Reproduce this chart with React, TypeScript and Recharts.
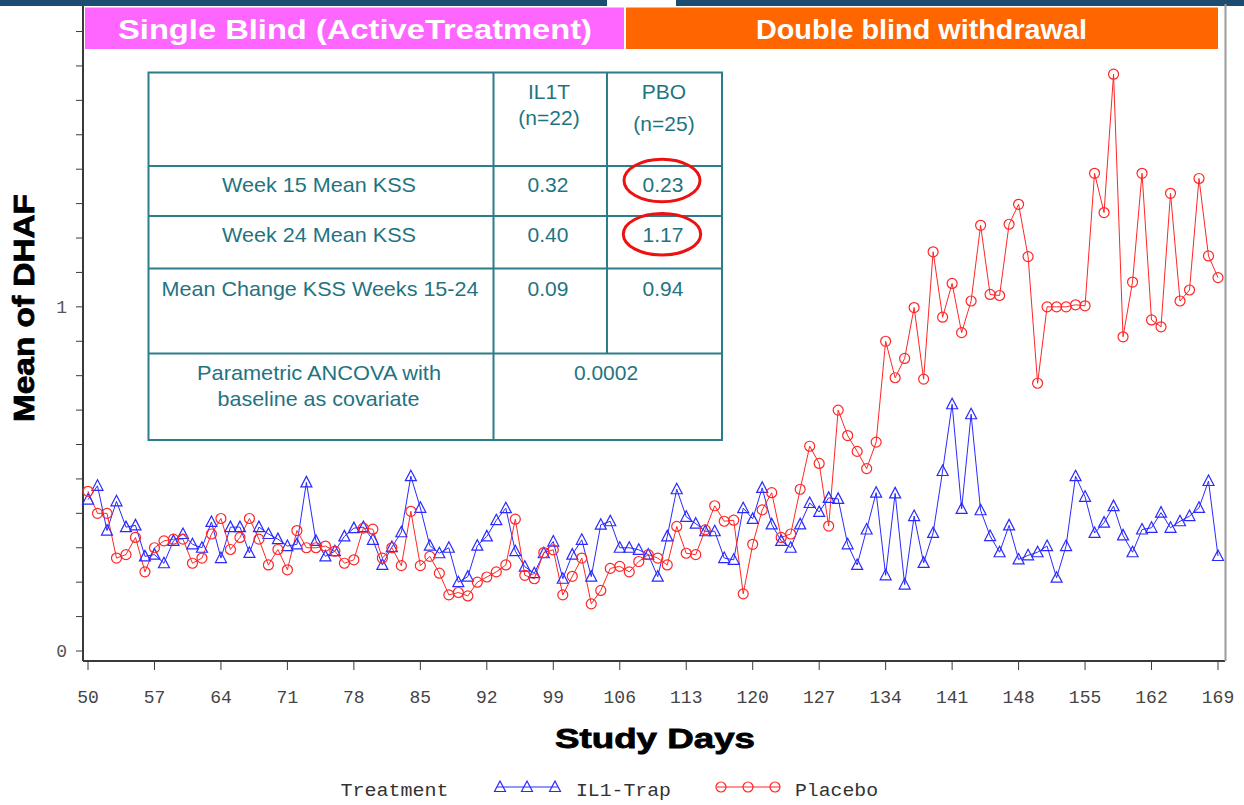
import React from 'react';
import { LineChart, Line, XAxis, YAxis } from 'recharts';

// ---------- data ----------
const DAYS = [
  50, 51, 52, 53, 54, 55, 56, 57, 58, 59,
  60, 61, 62, 63, 64, 65, 66, 67, 68, 69,
  70, 71, 72, 73, 74, 75, 76, 77, 78, 79,
  80, 81, 82, 83, 84, 85, 86, 87, 88, 89,
  90, 91, 92, 93, 94, 95, 96, 97, 98, 99,
  100, 101, 102, 103, 104, 105, 106, 107, 108, 109,
  110, 111, 112, 113, 114, 115, 116, 117, 118, 119,
  120, 121, 122, 123, 124, 125, 126, 127, 128, 129,
  130, 131, 132, 133, 134, 135, 136, 137, 138, 139,
  140, 141, 142, 143, 144, 145, 146, 147, 148, 149,
  150, 151, 152, 153, 154, 155, 156, 157, 158, 159,
  160, 161, 162, 163, 164, 165, 166, 167, 168, 169,
];

const IL1_TRAP = [
  0.44, 0.48, 0.35, 0.435, 0.36, 0.365, 0.275, 0.28, 0.255, 0.32,
  0.34, 0.31, 0.30, 0.375, 0.27, 0.36, 0.36, 0.285, 0.36, 0.34,
  0.325, 0.305, 0.31, 0.49, 0.32, 0.275, 0.29, 0.333, 0.357, 0.36,
  0.323, 0.25, 0.302, 0.345, 0.508, 0.416, 0.306, 0.284, 0.30, 0.20,
  0.216, 0.306, 0.333, 0.38, 0.415, 0.29, 0.245, 0.226, 0.284, 0.318,
  0.21, 0.28, 0.323, 0.216, 0.367, 0.377, 0.30, 0.30, 0.294, 0.28,
  0.216, 0.333, 0.47, 0.39, 0.37, 0.348, 0.348, 0.27, 0.265, 0.415,
  0.384, 0.474, 0.368, 0.32, 0.30, 0.368, 0.43, 0.404, 0.445, 0.442,
  0.31, 0.25, 0.353, 0.46, 0.22, 0.458, 0.193, 0.392, 0.256, 0.343,
  0.523, 0.717, 0.413, 0.688, 0.409, 0.334, 0.287, 0.365, 0.266, 0.278,
  0.287, 0.305, 0.213, 0.305, 0.508, 0.448, 0.343, 0.373, 0.421, 0.336,
  0.287, 0.353, 0.358, 0.402, 0.358, 0.377, 0.392, 0.416, 0.494, 0.276,
];

const PLACEBO = [
  0.464, 0.40, 0.40, 0.27, 0.28, 0.33, 0.23, 0.30, 0.32, 0.325,
  0.325, 0.255, 0.27, 0.34, 0.385, 0.295, 0.33, 0.385, 0.325, 0.25,
  0.295, 0.236, 0.35, 0.30, 0.30, 0.305, 0.29, 0.255, 0.265, 0.357,
  0.354, 0.27, 0.30, 0.248, 0.406, 0.248, 0.275, 0.226, 0.163, 0.17,
  0.16, 0.20, 0.215, 0.23, 0.25, 0.383, 0.22, 0.21, 0.286, 0.294,
  0.163, 0.217, 0.27, 0.137, 0.176, 0.24, 0.246, 0.23, 0.26, 0.28,
  0.27, 0.25, 0.362, 0.284, 0.28, 0.352, 0.422, 0.377, 0.38, 0.166,
  0.31, 0.41, 0.46, 0.33, 0.34, 0.47, 0.595, 0.545, 0.363, 0.70,
  0.626, 0.58, 0.53, 0.607, 0.90, 0.794, 0.85, 0.998, 0.79, 1.16,
  0.97, 1.068, 0.925, 1.017, 1.237, 1.036, 1.033, 1.24, 1.298, 1.146,
  0.778, 1.0, 1.0, 1.0, 1.006, 1.003, 1.388, 1.274, 1.676, 0.913,
  1.072, 1.388, 0.962, 0.942, 1.33, 1.017, 1.049, 1.373, 1.148, 1.085,
];

const X_TICKS = [50, 57, 64, 71, 78, 85, 92, 99, 106, 113, 120, 127, 134, 141, 148, 155, 162, 169];
const Y_TICKS = [0, 0.1, 0.2, 0.3, 0.4, 0.5, 0.6, 0.7, 0.8, 0.9, 1, 1.1, 1.2, 1.3, 1.4, 1.5, 1.6, 1.7, 1.8];
const Y_LABELED = [0, 1];

const SERIES_NAMES = ['IL1-Trap', 'Placebo'];
const LEGEND_TITLE = 'Treatment';
const X_TITLE = 'Study Days';
const Y_TITLE = 'Mean of DHAF';
const PHASES = ['Single Blind (ActiveTreatment)', 'Double blind withdrawal'];

const TABLE_HEAD_1 = ['IL1T', '(n=22)'];
const TABLE_HEAD_2 = ['PBO', '(n=25)'];
const TABLE_ROWS = [
  ['Week 15 Mean KSS', '0.32', '0.23'],
  ['Week 24 Mean KSS', '0.40', '1.17'],
  ['Mean Change KSS Weeks 15-24', '0.09', '0.94'],
];
const ANCOVA_LABEL = ['Parametric ANCOVA with', 'baseline as covariate'];
const ANCOVA_P = '0.0002';

const data = DAYS.map((d, i) => ({ day: d, il1: IL1_TRAP[i], pbo: PLACEBO[i] }));

// ---------- styles ----------
const BLUE = '#2a2aff';
const RED = '#ff2626';
const TEAL = '#2b7e89';
const TEAL_TEXT = '#1f7481';
const MONO = "'Liberation Mono', 'Courier New', monospace";
const SANS = "'Liberation Sans', Arial, sans-serif";

const TriangleDot = (props: any) => {
  const { cx, cy } = props;
  if (cx == null || cy == null) return <g />;
  const d = `M${cx},${cy - 6} L${cx + 5.5},${cy + 4.5} L${cx - 5.5},${cy + 4.5} Z`;
  return <path d={d} fill="none" stroke={BLUE} strokeWidth={1.2} />;
};

const XTick = (props: any) => {
  const { x, y, payload } = props;
  return (
    <text x={x} y={y} dy={29} textAnchor="middle" fontFamily={MONO} fontSize={18} fill="#444">
      {payload.value}
    </text>
  );
};

const YTick = (props: any) => {
  const { x, y, payload } = props;
  if (!Y_LABELED.includes(payload.value)) return <g />;
  return (
    <text x={x} y={y} dy={6} textAnchor="end" fontFamily={MONO} fontSize={18} fill="#555">
      {payload.value}
    </text>
  );
};

export default function App() {
  return (
    <div style={{ position: 'absolute', left: 0, top: 0, width: 1244, height: 805, background: '#fff', overflow: 'hidden' }}>
      <LineChart
        width={1244}
        height={805}
        data={data}
        margin={{ top: 4, right: 19, bottom: 84, left: 0 }}
      >
        <XAxis
          dataKey="day"
          type="number"
          domain={[50, 169]}
          ticks={X_TICKS}
          interval={0}
          padding={{ left: 5, right: 7 }}
          height={60}
          tickSize={9}
          tickMargin={4}
          axisLine={{ stroke: '#3a3a3a', strokeWidth: 2 }}
          tickLine={{ stroke: '#3a3a3a', strokeWidth: 1 }}
          tick={<XTick />}
        />
        <YAxis
          type="number"
          domain={[0, 1.88]}
          ticks={Y_TICKS}
          interval={0}
          padding={{ bottom: 10 }}
          width={83}
          tickSize={7}
          tickMargin={9}
          axisLine={{ stroke: '#3a3a3a', strokeWidth: 2 }}
          tickLine={{ stroke: '#3a3a3a', strokeWidth: 1 }}
          tick={<YTick />}
          allowDataOverflow
        />
        <Line
          type="linear"
          dataKey="il1"
          name={SERIES_NAMES[0]}
          stroke={BLUE}
          strokeWidth={1}
          dot={<TriangleDot />}
          activeDot={false}
          isAnimationActive={false}
        />
        <Line
          type="linear"
          dataKey="pbo"
          name={SERIES_NAMES[1]}
          stroke={RED}
          strokeWidth={1}
          dot={{ r: 5, fill: 'none', stroke: RED, strokeWidth: 1.2 }}
          activeDot={false}
          isAnimationActive={false}
        />
      </LineChart>

      <svg width={1244} height={805} style={{ position: 'absolute', left: 0, top: 0, pointerEvents: 'none' }}>
        {/* top strip */}
        <rect x={0} y={0} width={607} height={6} fill="#1c4d70" />
        <rect x={676} y={0} width={568} height={6} fill="#1c4d70" />

        {/* right frame */}
        <line x1={1225.5} y1={4} x2={1225.5} y2={661} stroke="#9a9a9a" strokeWidth={2} />

        {/* phase header */}
        <rect x={85} y={7.5} width={539} height={41.5} fill="#ff66ff" />
        <rect x={626} y={7.5} width={592} height={41.5} fill="#ff6600" />
        <text x={355} y={38.5} textAnchor="middle" fontFamily={SANS} fontWeight="bold" fontSize={28} fill="#fff"
          textLength={474} lengthAdjust="spacingAndGlyphs">{PHASES[0]}</text>
        <text x={921.5} y={38.5} textAnchor="middle" fontFamily={SANS} fontWeight="bold" fontSize={28} fill="#fff"
          textLength={331} lengthAdjust="spacingAndGlyphs">{PHASES[1]}</text>

        {/* table */}
        <rect x={148.5} y={72.5} width={573.5} height={367.5} fill="#fff" stroke={TEAL} strokeWidth={2} />
        <line x1={493.5} y1={72.5} x2={493.5} y2={440} stroke={TEAL} strokeWidth={2} />
        <line x1={607} y1={72.5} x2={607} y2={353.5} stroke={TEAL} strokeWidth={2} />
        <line x1={148.5} y1={166} x2={722} y2={166} stroke={TEAL} strokeWidth={2} />
        <line x1={148.5} y1={216} x2={722} y2={216} stroke={TEAL} strokeWidth={2} />
        <line x1={148.5} y1={268.5} x2={722} y2={268.5} stroke={TEAL} strokeWidth={2} />
        <line x1={148.5} y1={353.5} x2={722} y2={353.5} stroke={TEAL} strokeWidth={2} />

        <g fontFamily={SANS} fontSize={21} fill={TEAL_TEXT} textAnchor="middle">
          <text x={549} y={99}>{TABLE_HEAD_1[0]}</text>
          <text x={549} y={124.5}>{TABLE_HEAD_1[1]}</text>
          <text x={664} y={99}>{TABLE_HEAD_2[0]}</text>
          <text x={664} y={130.5}>{TABLE_HEAD_2[1]}</text>

          <text x={319} y={192} textLength={194} lengthAdjust="spacingAndGlyphs">{TABLE_ROWS[0][0]}</text>
          <text x={548} y={192}>{TABLE_ROWS[0][1]}</text>
          <text x={663} y={192}>{TABLE_ROWS[0][2]}</text>

          <text x={319} y={242} textLength={194} lengthAdjust="spacingAndGlyphs">{TABLE_ROWS[1][0]}</text>
          <text x={548} y={242}>{TABLE_ROWS[1][1]}</text>
          <text x={663} y={242}>{TABLE_ROWS[1][2]}</text>

          <text x={320} y={295.5} textLength={317} lengthAdjust="spacingAndGlyphs">{TABLE_ROWS[2][0]}</text>
          <text x={548} y={295.5}>{TABLE_ROWS[2][1]}</text>
          <text x={663} y={295.5}>{TABLE_ROWS[2][2]}</text>

          <text x={319} y={379.5} textLength={244} lengthAdjust="spacingAndGlyphs">{ANCOVA_LABEL[0]}</text>
          <text x={318.5} y={406} textLength={202} lengthAdjust="spacingAndGlyphs">{ANCOVA_LABEL[1]}</text>
          <text x={606} y={379.5}>{ANCOVA_P}</text>
        </g>

        <ellipse cx={662} cy={180.5} rx={38} ry={21.3} fill="none" stroke="#ee1111" strokeWidth={3} />
        <ellipse cx={662} cy={234.2} rx={38.7} ry={20.8} fill="none" stroke="#ee1111" strokeWidth={3} />

        {/* axis titles */}
        <g transform="translate(33.5, 308) rotate(-90)">
          <text x={0} y={0} textAnchor="middle" fontFamily={SANS} fontWeight="bold" fontSize={29} fill="#000"
            stroke="#000" strokeWidth={0.8} textLength={228} lengthAdjust="spacingAndGlyphs">{Y_TITLE}</text>
        </g>
        <text x={655} y={748} textAnchor="middle" fontFamily={SANS} fontWeight="bold" fontSize={28} fill="#000"
          stroke="#000" strokeWidth={0.8} textLength={200} lengthAdjust="spacingAndGlyphs">{X_TITLE}</text>

        {/* legend */}
        <g fontFamily={MONO} fontSize={19} fill="#333">
          <text x={340.5} y={796} textLength={108} lengthAdjust="spacingAndGlyphs">{LEGEND_TITLE}</text>
          <text x={576} y={796} textLength={95} lengthAdjust="spacingAndGlyphs">{SERIES_NAMES[0]}</text>
          <text x={795} y={796} textLength={83} lengthAdjust="spacingAndGlyphs">{SERIES_NAMES[1]}</text>
        </g>
        <line x1={497} y1={787} x2={558} y2={787} stroke={BLUE} strokeWidth={1} />
        {[500, 527, 555].map((cx) => (
          <path key={cx} d={`M${cx},${787 - 6} L${cx + 5.5},${787 + 4.5} L${cx - 5.5},${787 + 4.5} Z`}
            fill="none" stroke={BLUE} strokeWidth={1.2} />
        ))}
        <line x1={717} y1={787} x2={780} y2={787} stroke={RED} strokeWidth={1} />
        {[721, 748, 775].map((cx) => (
          <circle key={cx} cx={cx} cy={787} r={5} fill="none" stroke={RED} strokeWidth={1.2} />
        ))}
      </svg>
    </div>
  );
}
